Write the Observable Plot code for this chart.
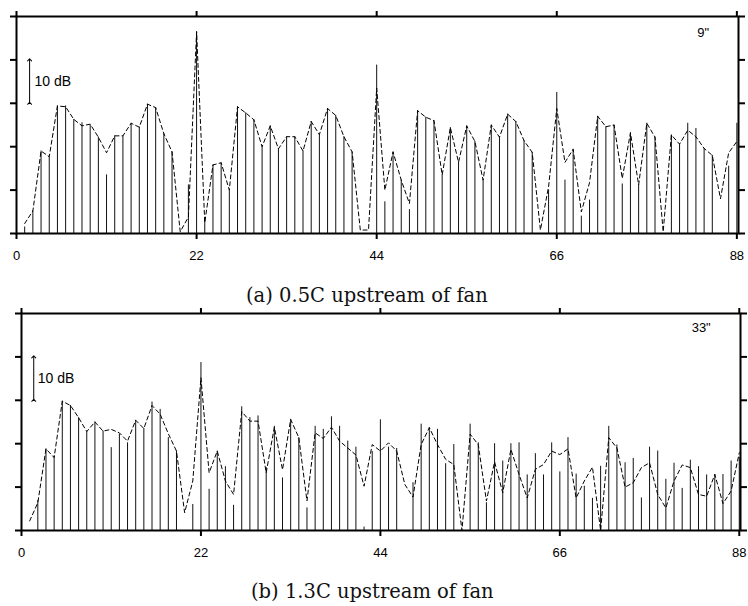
<!DOCTYPE html>
<html>
<head>
<meta charset="utf-8">
<script src="https://cdn.jsdelivr.net/npm/d3@7"></script>
<script src="https://cdn.jsdelivr.net/npm/@observablehq/plot@0.6"></script>
<style>
  body { margin: 0; background: white; width: 748px; height: 606px; position: relative; overflow: hidden; }
  .panel { position: absolute; left: 0; }
  .caption { position: absolute; font-family: "DejaVu Serif", serif; font-size: 19.5px; line-height: 1; white-space: nowrap; color: #111; }
</style>
</head>
<body>
<div id="pa" class="panel" style="top:0px"></div>
<div id="capA" class="caption" style="left:246px; top:286px">(a) 0.5C upstream of fan</div>
<div id="pb" class="panel" style="top:305px"></div>
<div id="capB" class="caption" style="left:251px; top:582px">(b) 1.3C upstream of fan</div>
<script>
// harmonic index (x categories)
const harmonics = d3.range(1, 89);
const xTicks = [0, 22, 44, 66, 88];
const yTicks = [0, 10, 20, 30, 40, 50];

// Panel (a) 0.5C upstream: stem levels (dB) and dashed-line levels (dB)
const stemsA = [1.5,5.2,19,17.7,29.4,29.4,26.3,25.5,25.0,22.2,13.5,22.5,22.5,25.4,24.5,29.8,29,23,18.8,0,11.2,46.5,3.5,15.8,16.3,10,29.2,27.8,26.2,20,24.8,19.5,22.3,22.3,19,25.8,22.8,28.8,27.2,22.3,18.8,0,0,38.8,7.3,18.8,12.3,5.5,28.3,26.8,26,13.5,24.4,16.4,24.8,21.2,12.3,25,22.2,27.5,25.8,21.4,18.7,0,10,32.5,12.3,19.4,4,7.7,27,24.6,25,11.4,23.2,11.2,25.4,22.2,0,22.7,20.6,25.4,24.2,19.6,18,0,15.5,25.4];
const dashA  = [2.3,5.2,19,17.7,29.4,29.2,26.3,24.8,25.2,22.2,18.6,22.5,22.5,25.4,24.5,29.8,29,23,18.8,0.4,3.8,46.5,2.5,15.8,16.3,10,29.2,27.8,26.2,20,24.8,19.5,22.3,22.3,19,25.8,22.8,28.8,27.2,22.3,18.8,0.8,0.8,33.5,10,18.8,12.3,6.9,28.3,26.8,26,13.5,24.4,16.4,24.8,21.2,12.3,25,22.2,27.5,25.8,21.4,18.7,0.8,10.8,28.8,16.4,19.4,5,11.7,27,24.6,25,12.7,23.2,11.2,25.4,22.2,0.4,22.7,20.6,23.8,22.3,19.6,18,8,18.6,21.2];

// Panel (b) 1.3C upstream
const stemsB = [0,6.9,18.8,17.2,29.8,28.8,26,22.8,25,22.9,19.1,22.2,20.2,25.4,23.5,29.6,27.9,21.4,18.3,0,6,38.7,9.5,18.3,14.7,5.8,28.5,26,26.4,14.5,24,12.1,25.6,21.4,5.2,24,23.3,26.2,24,20.6,19.2,0.8,18.2,25.5,19.2,18.9,0,11,24.5,23.7,23.3,15.4,19.8,0,24.5,20.2,6.4,20,16,20,20.2,12.8,17.7,12.8,20.2,13.5,21.4,13,10.2,7.4,14.8,24,19.7,15.6,16.6,7.5,19.2,18.3,11.8,15.5,9.7,16.2,14.7,12.8,12.9,12.9,16,16.8];
const dashB  = [2.2,6.4,18.8,16.8,29.8,28.8,26,22.8,25,22.9,23.3,22.5,20.6,25.4,23.5,28.8,26.8,22.3,18.3,4.1,11.4,35.2,13.3,18.3,11.4,8.3,27.4,25.2,25.2,13.3,23.8,14,25.6,21.4,6.8,22.5,21.2,23.8,20.6,19,17.4,10.2,19.8,18.3,20.2,18.3,10.6,7.7,19.8,23.7,19.8,16.4,15.2,0,22.2,19.8,6.8,15.8,8.7,18.7,12.9,7.5,14.1,15.2,18.3,17.5,18.8,7.5,11.4,14.6,0,21.4,19,10,11,14.5,15.6,8.3,5.2,11.4,15.1,14.5,8.3,7.9,12.9,6.2,9.1,17.9];

// annotations
const arrowA = [{x: 1.6, y1: 30, y2: 40}];
const arrowB = [{x: 1.5, y1: 30, y2: 40}];
const dbLabelA = [{x: 2.2, y: 35, t: "10 dB"}];
const dbLabelB = [{x: 2.0, y: 35, t: "10 dB"}];
const posLabelA = [{x: 84.6, y: 46.3, t: "9\""}];
const posLabelB = [{x: 84.5, y: 46.8, t: "33\""}];

function panel({stems, dash, arrow, dbLabel, posLabel, marginLeft, marginRight, xMax, marginTop, height, frameBottom}) {
  const data = harmonics.map((n, i) => ({n, stem: stems[i], dash: dash[i]}));
  return Plot.plot({
    width: 748,
    height,
    marginLeft, marginRight, marginTop,
    marginBottom: height - frameBottom,
    style: {background: "transparent", overflow: "visible", fontFamily: "'Liberation Sans', Arial, sans-serif", color: "#000"},
    x: {domain: [0, xMax], ticks: xTicks},
    y: {domain: [0, 50], ticks: yTicks},
    marks: [
      Plot.ruleX(data.filter(d => d.stem > 0), {x: "n", y1: 0, y2: "stem", stroke: "#111", strokeWidth: 1}),
      Plot.line(data, {x: "n", y: "dash", stroke: "#000", strokeWidth: 1, strokeDasharray: "4,3"}),
      Plot.frame({stroke: "#000", strokeWidth: 2}),
      Plot.axisX({anchor: "bottom", ticks: xTicks, tickSize: 6, tickPadding: 11, strokeWidth: 2, fontSize: 13, label: null, tickFormat: d => String(d)}),
      Plot.axisX({anchor: "top", ticks: xTicks, tickSize: 6, strokeWidth: 2, label: null, tickFormat: () => ""}),
      Plot.axisY({anchor: "left", ticks: yTicks, tickSize: 6, strokeWidth: 2, label: null, tickFormat: () => ""}),
      Plot.axisY({anchor: "right", ticks: yTicks, tickSize: 6, strokeWidth: 2, label: null, tickFormat: () => ""}),
      Plot.link(arrow, {x1: "x", x2: "x", y1: "y1", y2: "y2", stroke: "#000", strokeWidth: 1, markerStart: "arrow", markerEnd: "arrow"}),
      Plot.text(dbLabel, {x: "x", y: "y", text: "t", textAnchor: "start", fontSize: 14, fill: "#000"}),
      Plot.text(posLabel, {x: "x", y: "y", text: "t", textAnchor: "end", fontSize: 13, fill: "#000"})
    ]
  });
}

document.getElementById("pa").appendChild(panel({
  stems: stemsA, dash: dashA, arrow: arrowA, dbLabel: dbLabelA, posLabel: posLabelA,
  marginLeft: 16, marginRight: 10, xMax: 88.2, marginTop: 16, height: 270, frameBottom: 233
}));
document.getElementById("pb").appendChild(panel({
  stems: stemsB, dash: dashB, arrow: arrowB, dbLabel: dbLabelB, posLabel: posLabelB,
  marginLeft: 21, marginRight: 8, xMax: 88.15, marginTop: 8, height: 260, frameBottom: 225
}));
</script>
</body>
</html>
